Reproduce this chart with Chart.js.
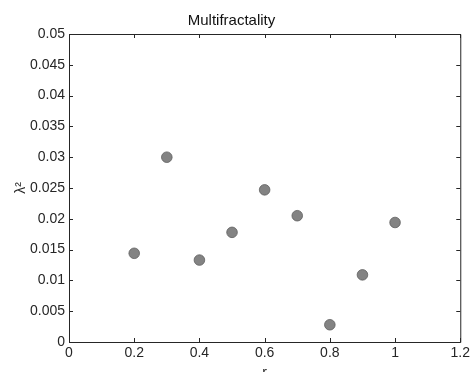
<!DOCTYPE html>
<html>
<head>
<meta charset="utf-8">
<script src="https://cdn.jsdelivr.net/npm/chart.js@4/dist/chart.umd.min.js"></script>
<style>
  body { margin: 0; background: #fff; }
  canvas { display: block; }
</style>
</head>
<body>
<canvas id="graph" width="473" height="372"></canvas>
<script>
// r values and the lambda^2
const rValues = [0.2, 0.3, 0.4, 0.5, 0.6, 0.7, 0.8, 0.9, 1.0]
const lambda2 = [0.0144, 0.0300, 0.0133, 0.0178, 0.0247, 0.0205, 0.0028, 0.0109, 0.0194]
const xRange = [0, 1.2, 0.2]
const yRange = [0, 0.05, 0.005]

const axisColor = '#262626'
const fontFamily = "'Liberation Sans', Arial, sans-serif"

let points = rValues.map((r, i) => ({x: r, y: lambda2[i]}))

// matlab style box with inward ticks
const boxTicks = {
    id: 'boxTicks',
    afterDraw(chart) {
        const {ctx, chartArea: a, scales} = chart
        const len = 4
        ctx.save()
        ctx.strokeStyle = axisColor
        ctx.lineWidth = 1
        ctx.beginPath()
        ctx.rect(a.left + 0.5, a.top + 0.5, a.right - a.left, a.bottom - a.top)
        scales.x.ticks.forEach(t => {
            const px = Math.round(scales.x.getPixelForValue(t.value)) + 0.5
            ctx.moveTo(px, a.bottom); ctx.lineTo(px, a.bottom - len)
            ctx.moveTo(px, a.top); ctx.lineTo(px, a.top + len)
        })
        scales.y.ticks.forEach(t => {
            const py = Math.round(scales.y.getPixelForValue(t.value)) + 0.5
            ctx.moveTo(a.left, py); ctx.lineTo(a.left + len, py)
            ctx.moveTo(a.right, py); ctx.lineTo(a.right - len, py)
        })
        ctx.stroke()
        ctx.restore()
    }
}

const fmt = v => String(Number(v.toFixed(3)))

new Chart("graph", {
    type: 'scatter',
    data: {
        datasets: [{
            data: points,
            pointRadius: 5.3,
            pointHoverRadius: 5.3,
            backgroundColor: '#838383',
            borderColor: '#5e5e5e',
            borderWidth: 0.8
        }]
    },
    options: {
        responsive: false,
        animation: false,
        layout: { padding: { left: 0, right: 10, top: 0, bottom: 0 } },
        plugins: {
            legend: { display: false },
            tooltip: { enabled: false },
            title: {
                display: true,
                text: 'Multifractality',
                color: '#111',
                font: { family: fontFamily, size: 15, weight: 'normal' },
                padding: { top: 12, bottom: 4 }
            }
        },
        scales: {
            x: {
                type: 'linear',
                min: xRange[0], max: xRange[1],
                grid: { display: false, drawTicks: false },
                border: { display: false },
                ticks: {
                    stepSize: xRange[2],
                    padding: 3,
                    maxRotation: 0,
                    color: axisColor,
                    font: { family: fontFamily, size: 14 },
                    callback: v => fmt(v)
                },
                title: {
                    display: true,
                    text: 'r',
                    color: axisColor,
                    font: { family: fontFamily, size: 14 },
                    padding: { top: 0, bottom: -10 }
                },
                afterFit: s => { s.height = 30 }
            },
            y: {
                type: 'linear',
                min: yRange[0], max: yRange[1],
                grid: { display: false, drawTicks: false },
                border: { display: false },
                ticks: {
                    stepSize: yRange[2],
                    padding: 4,
                    color: axisColor,
                    font: { family: fontFamily, size: 14 },
                    callback: v => fmt(v)
                },
                title: {
                    display: true,
                    text: 'λ²',
                    color: axisColor,
                    font: { family: fontFamily, size: 14 },
                    padding: { top: 13, bottom: 0 }
                },
                afterFit: s => { s.width = 69 }
            }
        }
    },
    plugins: [boxTicks]
})
</script>
</body>
</html>
